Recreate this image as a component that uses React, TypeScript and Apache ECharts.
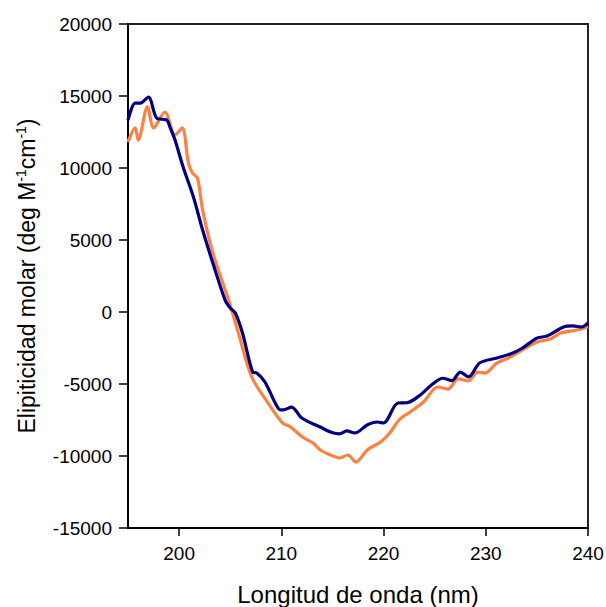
import React, { useEffect, useRef } from "react";
import * as echarts from "echarts";

// Wavelengths (nm) and molar ellipticity (deg M^-1 cm^-1)
const blueX = [195.0, 195.7, 196.2, 197.0, 197.8, 198.8, 199.1, 199.6, 200.4, 201.4, 202.3, 203.3, 204.5, 205.0, 205.5, 206.2, 207.2, 207.6, 208.4, 209.4, 209.9, 210.2, 211.0, 212.0, 213.8, 214.8, 215.7, 216.4, 217.2, 218.4, 219.4, 220.0, 221.4, 222.3, 223.6, 224.8, 225.8, 226.7, 227.5, 228.3, 229.4, 231.1, 232.4, 233.6, 235.0, 236.0, 237.6, 238.5, 239.4, 240.0];
const blueY = [13330, 14500, 14500, 14930, 13470, 13330, 12850, 11940, 10050, 7990, 5690, 3400, 830, 280, -70, -1460, -4170, -4240, -4860, -6320, -6800, -6800, -6600, -7360, -7990, -8330, -8470, -8260, -8400, -7850, -7640, -7710, -6320, -6300, -5760, -5000, -4600, -4760, -4170, -4510, -3540, -3190, -2920, -2500, -1810, -1670, -1040, -970, -1040, -760];

const orangeX = [195.0, 195.7, 196.0, 196.9, 197.5, 198.6, 199.6, 200.3, 200.9, 201.3, 201.8, 202.3, 203.3, 204.9, 205.8, 207.1, 208.7, 210.1, 210.9, 212.1, 213.1, 213.8, 214.8, 215.7, 216.5, 217.3, 218.4, 219.7, 220.6, 221.6, 222.6, 223.9, 225.3, 226.3, 227.3, 228.3, 229.2, 229.9, 231.1, 232.4, 233.4, 235.0, 236.3, 237.3, 238.9, 240.0];
const orangeY = [11800, 12780, 11940, 14240, 12780, 13890, 12290, 12780, 10400, 9650, 9300, 7080, 4100, 700, -1460, -4510, -6320, -7700, -7990, -8700, -9100, -9580, -9930, -10140, -9930, -10420, -9580, -9030, -8400, -7430, -6940, -6250, -5210, -5350, -4650, -4790, -4170, -4240, -3540, -3130, -2710, -2080, -1880, -1460, -1250, -1040];

const xTicks = [200, 210, 220, 230, 240];
const yMin = -15000;
const yMax = 20000;
const yStep = 5000;

const FONT = "Liberation Sans, Arial, sans-serif";

export default function App() {
  const ref = useRef<HTMLDivElement>(null);
  useEffect(() => {
    if (!ref.current) return;
    const chart = echarts.init(ref.current, null, { renderer: "svg" });
    const pair = (xs: number[], ys: number[]) => xs.map((x, i) => [x, ys[i]]);
    chart.setOption({
      animation: false,
      backgroundColor: "#ffffff",
      grid: {
        left: 128,
        right: 18,
        top: 24,
        bottom: 79,
        outerBoundsMode: "none",
        containLabel: false,
        show: true,
        borderColor: "#222",
        borderWidth: 2,
        backgroundColor: "transparent",
      },
      xAxis: {
        type: "value",
        min: 195,
        max: 240,
        name: "Longitud de onda (nm)",
        nameLocation: "middle",
        nameGap: 54,
        nameTextStyle: { fontFamily: FONT, fontSize: 24, color: "#000" },
        axisLine: { show: true, onZero: false, lineStyle: { color: "#000", width: 2 } },
        axisTick: { show: true, length: 8, customValues: xTicks, lineStyle: { color: "#000", width: 1.5 } },
        axisLabel: { customValues: xTicks, margin: 16, fontFamily: FONT, fontSize: 19, color: "#000" },
        splitLine: { show: false },
      },
      yAxis: {
        type: "value",
        min: yMin,
        max: yMax,
        interval: yStep,
        name: "{a|Elipiticidad molar (deg M}{s|-1}{a|cm}{s|-1}{a|)}",
        nameLocation: "middle",
        nameGap: 88,
        nameRotate: 90,
        nameTextStyle: {
          fontFamily: FONT,
          fontSize: 23,
          color: "#000",
          rich: {
            a: { fontFamily: FONT, fontSize: 23, color: "#000", lineHeight: 27 },
            s: { fontFamily: FONT, fontSize: 14, color: "#000", lineHeight: 27, padding: [0, 0, 12, 0] },
          },
        },
        axisLine: { show: true, onZero: false, lineStyle: { color: "#000", width: 2 } },
        axisTick: { show: true, length: 9, lineStyle: { color: "#000", width: 1.5 } },
        axisLabel: {
          margin: 16,
          fontFamily: FONT,
          fontSize: 19,
          color: "#000",
          formatter: (v: number) => String(v),
        },
        splitLine: { show: false },
      },
      series: [
        {
          type: "line",
          name: "A",
          data: pair(blueX, blueY),
          showSymbol: false,
          smooth: 0.3,
          lineStyle: { color: "#000080", width: 3.2 },
          z: 3,
        },
        {
          type: "line",
          name: "B",
          data: pair(orangeX, orangeY),
          showSymbol: false,
          smooth: 0.3,
          lineStyle: { color: "#FF8040", width: 3.2 },
          z: 2,
        },
      ],
    });
    return () => chart.dispose();
  }, []);
  return <div ref={ref} style={{ width: 606, height: 607, position: "absolute", left: 0, top: 0 }} />;
}
